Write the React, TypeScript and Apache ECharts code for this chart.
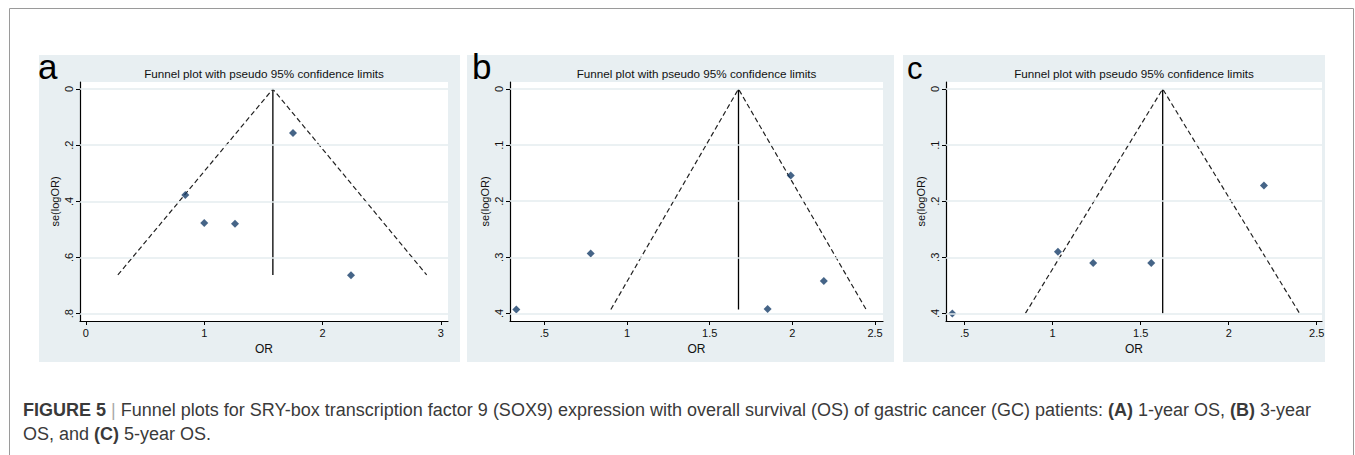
import React, { useEffect, useRef } from "react";
import * as echarts from "echarts";

const FONT = '"Liberation Sans", Arial, Helvetica, sans-serif';
const PANEL_BG = "#e8eff2";
const GRID_COLOR = "#e4ecef";
const MARKER = "#173d69";

// Panel a: 1-year OS
const orA = [0.84, 1.0, 1.26, 1.75, 2.24];
const seA = [0.377, 0.477, 0.48, 0.157, 0.663];
const funnelA = { pooled: 1.58, seMax: 0.662, lower: 0.27, upper: 2.88 };
const xTicksA = [0, 1, 2, 3];
const yTicksA = [0, 0.2, 0.4, 0.6, 0.8];

// Panel b: 3-year OS
const orB = [0.33, 0.78, 1.85, 1.99, 2.19];
const seB = [0.393, 0.293, 0.392, 0.154, 0.342];
const funnelB = { pooled: 1.674, seMax: 0.393, lower: 0.902, upper: 2.446 };
const xTicksB = [0.5, 1, 1.5, 2, 2.5];
const yTicksB = [0, 0.1, 0.2, 0.3, 0.4];

// Panel c: 5-year OS
const orC = [0.43, 1.03, 1.23, 1.56, 2.2];
const seC = [0.4, 0.29, 0.31, 0.31, 0.172];
const funnelC = { pooled: 1.625, seMax: 0.4, lower: 0.845, upper: 2.403 };
const xTicksC = [0.5, 1, 1.5, 2, 2.5];
const yTicksC = [0, 0.1, 0.2, 0.3, 0.4];

const TITLE = "Funnel plot with pseudo 95% confidence limits";
const CAPTION1_REST =
  " Funnel plots for SRY-box transcription factor 9 (SOX9) expression with overall survival (OS) of gastric cancer (GC) patients: ";
const CAPTION2_START = "OS, and ";

const stataNum = (v: number) => {
  if (v === 0) return "0";
  const s = String(Math.round(v * 1000) / 1000);
  return s.startsWith("0.") ? s.slice(1) : s;
};

type PanelCfg = {
  or: number[];
  se: number[];
  funnel: { pooled: number; seMax: number; lower: number; upper: number };
  xTicks: number[];
  yTicks: number[];
  xMin: number;
  xMax: number;
  yMin: number;
  yMax: number;
  grid: { left: number; top: number; width: number; height: number };
};

const panels: PanelCfg[] = [
  {
    or: orA, se: seA, funnel: funnelA, xTicks: xTicksA, yTicks: yTicksA,
    xMin: -0.05, xMax: 3.06, yMin: -0.025, yMax: 0.826,
    grid: { left: 80, top: 82, width: 368, height: 239 },
  },
  {
    or: orB, se: seB, funnel: funnelB, xTicks: xTicksB, yTicks: yTicksB,
    xMin: 0.292, xMax: 2.548, yMin: -0.0125, yMax: 0.4135,
    grid: { left: 510, top: 82, width: 373, height: 239 },
  },
  {
    or: orC, se: seC, funnel: funnelC, xTicks: xTicksC, yTicks: yTicksC,
    xMin: 0.394, xMax: 2.53, yMin: -0.0125, yMax: 0.4135,
    grid: { left: 946, top: 82, width: 376, height: 239 },
  },
];

const panelRects = [
  { x: 39, y: 55, w: 421, h: 307 },
  { x: 467, y: 55, w: 427, h: 307 },
  { x: 903, y: 55, w: 422, h: 307 },
];
const letters = [
  { t: "a", x: 38, size: 35 },
  { t: "b", x: 472, size: 35 },
  { t: "c", x: 907, size: 31 },
];

export default function App() {
  const ref = useRef<HTMLDivElement>(null);
  useEffect(() => {
    if (!ref.current) return;
    const chart = echarts.init(ref.current, null, { renderer: "svg" });

    const grids: any[] = [];
    const xAxes: any[] = [];
    const yAxes: any[] = [];
    const series: any[] = [];

    panels.forEach((p, i) => {
      grids.push({
        ...p.grid,
        show: true,
        backgroundColor: "#ffffff",
        borderWidth: 0,
        containLabel: false,
      });
      xAxes.push({
        gridIndex: i,
        type: "value",
        min: p.xMin,
        max: p.xMax,
        axisLine: { show: true, onZero: false, lineStyle: { color: "#000", width: 1.2 } },
        axisTick: { show: true, customValues: p.xTicks, length: 4, lineStyle: { color: "#000" } },
        axisLabel: {
          customValues: p.xTicks,
          formatter: (v: number) => stataNum(v),
          fontSize: 11,
          color: "#111",
          margin: 6,
          fontFamily: FONT,
        },
        splitLine: { show: false },
        name: "OR",
        nameLocation: "middle",
        nameGap: 16,
        nameTextStyle: { fontSize: 12, color: "#111", fontFamily: FONT },
      });
      yAxes.push({
        gridIndex: i,
        type: "value",
        inverse: true,
        min: p.yMin,
        max: p.yMax,
        axisLine: { show: true, onZero: false, lineStyle: { color: "#000", width: 1.2 } },
        axisTick: { show: true, customValues: p.yTicks, length: 4, lineStyle: { color: "#000" } },
        axisLabel: {
          customValues: p.yTicks,
          formatter: (v: number) => stataNum(v),
          rotate: 90,
          fontSize: 11,
          color: "#111",
          margin: 6,
          fontFamily: FONT,
        },
        splitLine: { show: false },
        name: "se(logOR)",
        nameLocation: "middle",
        nameGap: 20,
        nameTextStyle: { fontSize: 11, color: "#111", fontFamily: FONT },
      });
      series.push({
        type: "line",
        xAxisIndex: i,
        yAxisIndex: i,
        data: [],
        silent: true,
        z: 1,
        markLine: {
          silent: true,
          symbol: ["none", "none"],
          label: { show: false },
          lineStyle: { color: GRID_COLOR, width: 1.5, type: "solid" },
          emphasis: { disabled: true },
          data: p.yTicks.map((v) => ({ yAxis: v })),
        },
      });
      series.push({
        type: "line",
        xAxisIndex: i,
        yAxisIndex: i,
        data: [
          [p.funnel.lower, p.funnel.seMax],
          [p.funnel.pooled, 0],
          [p.funnel.upper, p.funnel.seMax],
        ],
        symbol: "none",
        silent: true,
        z: 2,
        lineStyle: { color: "#222", width: 1.2, type: [5, 3] },
      });
      series.push({
        type: "line",
        xAxisIndex: i,
        yAxisIndex: i,
        data: [
          [p.funnel.pooled, 0],
          [p.funnel.pooled, p.funnel.seMax],
        ],
        symbol: "none",
        silent: true,
        z: 2,
        lineStyle: { color: "#000", width: 1.3, type: "solid" },
      });
      series.push({
        type: "scatter",
        xAxisIndex: i,
        yAxisIndex: i,
        data: p.or.map((o, k) => [o, p.se[k]]),
        symbol: "diamond",
        symbolSize: 8,
        z: 3,
        itemStyle: { color: MARKER },
      });
    });

    const graphic: any[] = [
      {
        type: "rect",
        shape: { x: 9.5, y: 8.5, width: 1344, height: 470 },
        style: { fill: "#fff", stroke: "#9a9a9a", lineWidth: 1 },
        z: -10,
        silent: true,
      },
      ...panelRects.map((r) => ({
        type: "rect",
        shape: { x: r.x, y: r.y, width: r.w, height: r.h },
        style: { fill: PANEL_BG },
        z: -9,
        silent: true,
      })),
      ...letters.map((l) => ({
        type: "text",
        x: l.x,
        y: 84,
        style: {
          text: l.t,
          fontSize: l.size,
          fontFamily: FONT,
          fill: "#000",
          align: "left",
          verticalAlign: "bottom",
        },
        z: 10,
        silent: true,
      })),
      ...panels.map((p) => ({
        type: "text",
        x: p.grid.left + p.grid.width / 2,
        y: 73,
        style: {
          text: TITLE,
          fontSize: 11.7,
          fontFamily: FONT,
          fill: "#111",
          align: "center",
          verticalAlign: "middle",
        },
        z: 10,
        silent: true,
      })),
    ];

    const capStyle = {
      fontSize: 18,
      fontFamily: FONT,
      color: "#3a3a3a",
      fontWeight: "normal",
      lineHeight: 22,
    };
    const rich = {
      b: { ...capStyle, fontWeight: "bold" },
      n: { ...capStyle },
      p: { ...capStyle, color: "#aaa" },
    };

    chart.setOption({
      animation: false,
      backgroundColor: "#ffffff",
      grid: grids,
      xAxis: xAxes,
      yAxis: yAxes,
      series,
      graphic,
      title: [
        {
          text:
            "{b|FIGURE 5}{n| }{p||}{n|" + CAPTION1_REST + "}{b|(A)}{n| 1-year OS, }{b|(B)}{n| 3-year}",
          left: 23,
          top: 399,
          padding: 0,
          textStyle: { ...capStyle, rich },
        },
        {
          text: "{n|" + CAPTION2_START + "}{b|(C)}{n| 5-year OS.}",
          left: 23,
          top: 423,
          padding: 0,
          textStyle: { ...capStyle, rich },
        },
      ],
    });
    return () => chart.dispose();
  }, []);

  return (
    <div
      ref={ref}
      style={{ position: "absolute", left: 0, top: 0, width: 1355, height: 455 }}
    />
  );
}
